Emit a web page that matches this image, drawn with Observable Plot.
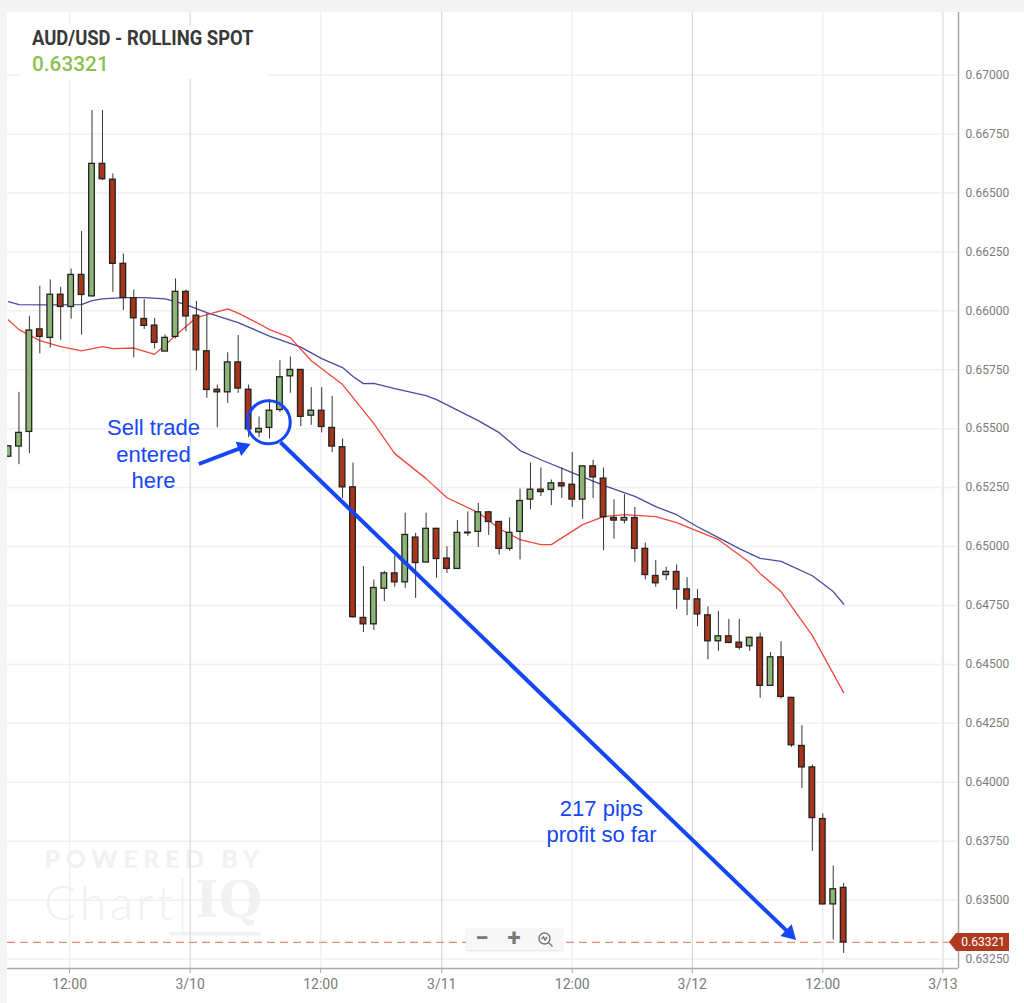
<!DOCTYPE html>
<html><head><meta charset="utf-8">
<script src="https://cdn.jsdelivr.net/npm/d3@7"></script>
<script src="https://cdn.jsdelivr.net/npm/@observablehq/plot@0.6"></script>
<style>
html,body{margin:0;padding:0;background:#fff}
#page{position:relative;width:1024px;height:1003px;overflow:hidden;background:#fff}
#chart{position:absolute;left:0;top:0;width:1017px;height:991px;margin-left:7px;margin-top:12px}
#strip{position:absolute;left:0;top:0;width:1024px;height:12px;background:#f4f4f4}
#stripL{position:absolute;left:0;top:0;width:7px;height:1003px;background:#f4f4f4}
#head{position:absolute;left:20px;top:25px;width:247px;height:54px;background:#fff;font-family:Roboto,sans-serif}
#head .t{position:absolute;left:12px;top:1px;font-size:20px;font-weight:700;color:#383838;white-space:nowrap;transform:scaleX(.92);transform-origin:left center}
#head .p{position:absolute;left:12px;top:27px;font-size:20.8px;font-weight:500;color:#8cc152;white-space:nowrap}
#tag{position:absolute;left:949px;top:933px;width:60px;height:18px;background:#b03a20;color:#fff;font:12px Roboto,sans-serif;line-height:18px;text-align:right;clip-path:polygon(0 50%,7px 0,100% 0,100% 100%,7px 100%)}
#tag span{margin-right:4px}
#zoomer{position:absolute;left:466px;top:928px;width:97px;height:22px;background:#f7f7f7;border-radius:2px;box-shadow:0 1px 2px rgba(0,0,0,.12);font:700 24px Roboto,sans-serif;color:#777}
#zoomer span{position:absolute;top:0;line-height:21px;width:32px;text-align:center}
#zoomer svg{position:absolute;left:71px;top:3px}
</style></head><body>
<div id="page"><div id="strip"></div><div id="stripL"></div><div id="chart"></div>
<div id="head"><div class="t">AUD/USD - ROLLING SPOT</div><div class="p">0.63321</div></div>
<div id="tag"><span>0.63321</span></div>
<div id="zoomer"><span style="left:0">−</span><span style="left:32px">+</span>
<svg width="17" height="17" viewBox="0 0 17 17" fill="none" stroke="#777" stroke-width="1.4"><circle cx="7.5" cy="7.5" r="5.5"/><path d="M11.5 11.5L15.5 15.5M4.5 8l2-2 1.5 3 2-3"/></svg></div>
</div>
<script>
const opens=[.65381,.65424,.65486,.65921,.65885,.66068,.66016,.66152,.66061,.66623,.66556,.66199,.66053,.65965,.65937,.65827,.65889,.66080,.65979,.65828,.65665,.65654,.65781,.65665,.65484,.65503,.65579,.65722,.65749,.65555,.65576,.65503,.65421,.65251,.64697,.64670,.64821,.64886,.64848,.65038,.64932,.65075,.64949,.64905,.65056,.65062,.65145,.65104,.64990,.65062,.65199,.65241,.65240,.65268,.65262,.65199,.65340,.65288,.65121,.65110,.65121,.64990,.64875,.64879,.64892,.64818,.64776,.64708,.64598,.64619,.64592,.64577,.64613,.64409,.64530,.64358,.64154,.64063,.63844,.63482,.63552];
const closes=[.65425,.65482,.65916,.65889,.66068,.66016,.66152,.66067,.66623,.66558,.66199,.66054,.65968,.65936,.65864,.65885,.66080,.65976,.65832,.65664,.65654,.65781,.65670,.65497,.65499,.65576,.65718,.65749,.65550,.65576,.65507,.65424,.65251,.64700,.64670,.64824,.64886,.64848,.65049,.64930,.65075,.64947,.64905,.65058,.65059,.65145,.65104,.64990,.65058,.65193,.65241,.65231,.65268,.65255,.65199,.65340,.65293,.65124,.65110,.65121,.64990,.64879,.64844,.64892,.64817,.64775,.64712,.64598,.64619,.64591,.64571,.64613,.64409,.64530,.64362,.64157,.64063,.63848,.63482,.63546,.63321];
const highs=[.65428,.65654,.65976,.66104,.66131,.66099,.66177,.66336,.66849,.66849,.66580,.66241,.66088,.66047,.65968,.65897,.66135,.66088,.66040,.65987,.65685,.65822,.65895,.65685,.65550,.65623,.65788,.65804,.65749,.65674,.65674,.65637,.65456,.65354,.64915,.64858,.64895,.64961,.65141,.65056,.65141,.65077,.64999,.65110,.65147,.65183,.65149,.65107,.65121,.65244,.65354,.65333,.65282,.65333,.65398,.65340,.65366,.65333,.65198,.65220,.65166,.65015,.64941,.64912,.64922,.64868,.64817,.64744,.64724,.64691,.64691,.64613,.64633,.64550,.64596,.64360,.64240,.64073,.63866,.63645,.63571];
const lows=[.65377,.65347,.65394,.65817,.65842,.65875,.65964,.65897,.66058,.66552,.66078,.66001,.65801,.65921,.65838,.65827,.65881,.65911,.65746,.65629,.65504,.65607,.65650,.65462,.65461,.65456,.65569,.65650,.65508,.65514,.65482,.65398,.65203,.64697,.64635,.64644,.64766,.64827,.64823,.64780,.64932,.64865,.64886,.64905,.65043,.64996,.65047,.64964,.64980,.64943,.65156,.65212,.65173,.65204,.65166,.65115,.65204,.64982,.65032,.65096,.64933,.64859,.64827,.64855,.64733,.64707,.64660,.64519,.64555,.64588,.64561,.64555,.64356,.64409,.64353,.64148,.63974,.63707,.63479,.63331,.63274];

const blueBars=[0,1,4,7,8,9,11,13,15,16,17,19,22,25,28,30,32,33,34,35,37,40,41,45,47,49,51,54,57,60,62,64,66,68,70,72,74,77,79,80];
const blueValues=[.66039,.66026,.66025,.66026,.66043,.66050,.66056,.66056,.66050,.66039,.66026,.65992,.65950,.65892,.65846,.65797,.65759,.65721,.65691,.65692,.65670,.65640,.65623,.65534,.65483,.65407,.65368,.65313,.65259,.65213,.65169,.65135,.65084,.65038,.64991,.64950,.64937,.64876,.64809,.64756];
const redBars=[0,1,3,5,7,9,10,12,14,16,18,21,22,24,25,27,29,32,35,37,40,42,45,47,49,51,52,55,57,59,62,64,68,71,72,74,77,80];
const redValues=[.65961,.65920,.65873,.65848,.65830,.65848,.65839,.65842,.65815,.65895,.65971,.66008,.65990,.65945,.65920,.65886,.65788,.65687,.65521,.65394,.65288,.65207,.65144,.65076,.65029,.65008,.65008,.65093,.65127,.65135,.65127,.65101,.65029,.64932,.64885,.64809,.64622,.64380];

const priceTicks=[.6325,.635,.6375,.64,.6425,.645,.6475,.65,.6525,.655,.6575,.66,.6625,.665,.6675,.67];
const halfDayBars=[5.85,29.9,54,78];
const dateBars=[17.4,41.5,65.5];
const endBar=[89.5];
const timeBars=[5.85,17.4,29.9,41.5,54,65.5,78,89.5];
const timeLabels=["12:00","3/10","12:00","3/11","12:00","3/12","12:00","3/13"];
const lastPrice=0.63321;

const candles=opens.map((o,i)=>({i,o,c:closes[i],h:highs[i],l:lows[i]}));
const xDomain=[-0.096,91.0], yDomain=[0.632101,0.672651];
const blue="#1547f6", font="'Liberation Sans',Arial,sans-serif";

const notes=[
 {t:"Sell trade",x:13.89,y:.65504},{t:"entered",x:13.89,y:.65390},{t:"here",x:13.89,y:.65279},
 {t:"217 pips",x:56.8,y:.63888},{t:"profit so far",x:56.8,y:.63778}];
const arrows=[
 {x1:26.05,y1:.65442,x2:74.8,y2:.63359,rot:134,r:6},
 {x1:18.23,y1:.65350,x2:22.41,y2:.65421,rot:68.4,r:5.6}];

const plot=Plot.plot({
 width:1017,height:991,marginLeft:0,marginRight:66,marginTop:0,marginBottom:35,
 style:{background:"transparent",overflow:"visible"},
 x:{type:"linear",domain:xDomain},
 y:{type:"linear",domain:yDomain},
 marks:[
  Plot.text(["POWERED BY"],{x:[3.45],y:[.63671],text:d=>d,textAnchor:"start",fontFamily:"Lato,sans-serif",fontWeight:900,fontSize:25,fill:"#f1f1f1"}),
  Plot.text(["Chart"],{x:[3.4],y:[.63480],text:d=>d,textAnchor:"start",fontFamily:"Lato,sans-serif",fontWeight:300,fontSize:48,fill:"#f1f1f1"}),
  Plot.text(["IQ"],{x:[17.9],y:[.63498],text:d=>d,textAnchor:"start",fontFamily:"'DejaVu Serif',serif",fontWeight:700,fontSize:50,fill:"#f1f1f1"}),
  Plot.ruleX([16.67],{y1:.63358,y2:.63591,stroke:"#f1f1f1",strokeWidth:2}),
  Plot.ruleY([.63358],{x1:15.5,x2:24.2,stroke:"#f1f1f1",strokeWidth:3.5}),

  Plot.ruleY(priceTicks,{stroke:"#f0f0f0",strokeWidth:1.5}),
  Plot.ruleX(halfDayBars,{stroke:"#f0f0f0",strokeWidth:1.5}),
  Plot.ruleX(dateBars,{stroke:"#d8d8d8",strokeWidth:1.2}),
  Plot.ruleX(endBar,{stroke:"#e8e8e8",strokeWidth:2}),
  Plot.ruleY([lastPrice],{stroke:"#e68f80",strokeWidth:1.3,strokeDasharray:"8 5"}),

  Plot.line(blueBars,{x:d=>d,y:(d,i)=>blueValues[i],stroke:"#4a4aa0",strokeWidth:1.3,clip:true}),
  Plot.line(redBars,{x:d=>d,y:(d,i)=>redValues[i],stroke:"#f0483c",strokeWidth:1.3,clip:true}),

  Plot.ruleX(candles,{x:"i",y1:"l",y2:"h",stroke:"#333",strokeWidth:1,clip:true}),
  Plot.rect(candles,{x1:d=>d.i-0.27,x2:d=>d.i+0.27,y1:"o",y2:"c",
    fill:d=>d.c>=d.o?"#8db577":"#a8351a",stroke:"#222",strokeWidth:1.3,clip:true}),

  Plot.link(arrows,{x1:"x1",y1:"y1",x2:"x2",y2:"y2",stroke:blue,strokeWidth:4}),
  Plot.dot(arrows,{x:"x2",y:"y2",symbol:"triangle",r:{value:"r",scale:null},rotate:"rot",fill:blue,stroke:"none"}),
  Plot.dot([{x:24.93,y:.65527}],{x:"x",y:"y",r:21.5,stroke:blue,strokeWidth:3,fill:"none"}),
  Plot.text(notes,{x:"x",y:"y",text:"t",fill:blue,fontSize:22,fontFamily:font}),

  Plot.axisY(priceTicks,{anchor:"right",tickSize:0,tickPadding:7,tickFormat:d3.format(".5f"),label:null,fontSize:12,fontFamily:"Roboto,sans-serif",fill:"#7c7c7c"}),
  Plot.axisX(timeBars,{anchor:"bottom",tickSize:5,tickPadding:6,tickFormat:(d,i)=>timeLabels[i],label:null,fontSize:14,fontFamily:"Roboto,sans-serif",fill:"#7c7c7c",stroke:"#aaa"}),
  Plot.ruleY([yDomain[0]],{stroke:"#a8a8a8",strokeWidth:1.5}),
  Plot.ruleX([xDomain[1]],{stroke:"#a8a8a8",strokeWidth:1.5})
 ]
});
d3.select(plot).selectAll("text").each(function(){
  const t=this.textContent;
  if(t==="POWERED BY") this.style.letterSpacing="5.6px";
  if(t==="Chart") this.style.letterSpacing="3.4px";
});
document.getElementById("chart").appendChild(plot);
</script></body></html>
